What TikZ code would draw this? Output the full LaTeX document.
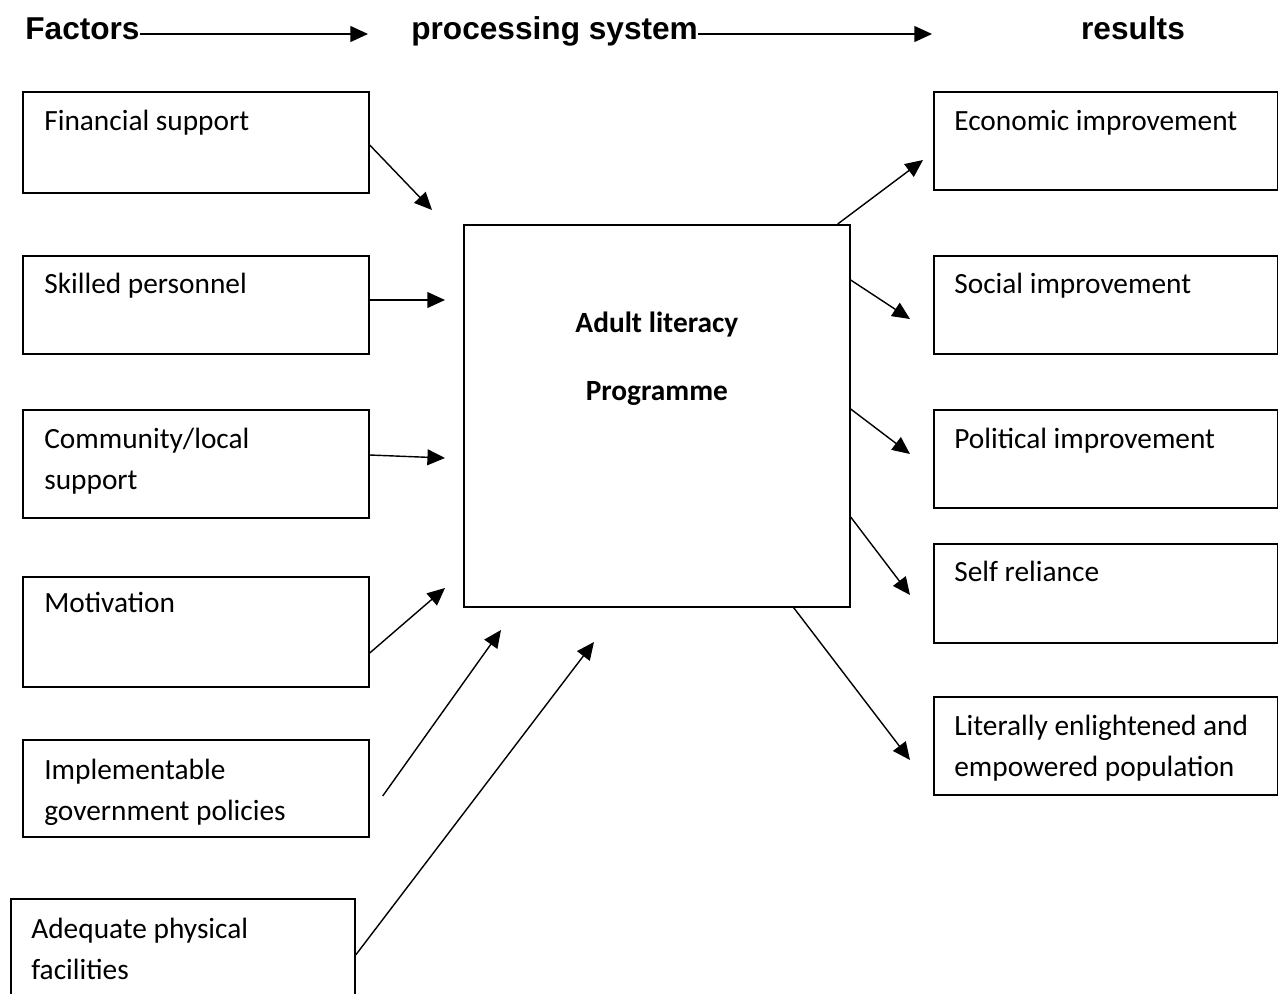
\documentclass[tikz,border=0pt]{standalone}
\usepackage{fontspec}
\setmainfont{Carlito}
\newfontfamily\headfont{Liberation Sans}
\usetikzlibrary{arrows.meta,calc}

\tikzset{
  box/.style={draw, line width=1pt, inner sep=0pt, anchor=north west,
    minimum width=6.92cm},
  boxtext/.style={anchor=base west, inner sep=0pt, align=flush left,
    text width=6.4cm, font=\fontsize{16.7}{23.5}\selectfont},
  head/.style={anchor=base west, inner sep=0pt,
    font=\headfont\fontsize{18}{22}\bfseries\selectfont},
  arr/.style={-{Triangle[length=10pt,width=9pt]}, line width=0.8pt}
}

\begin{document}
\begin{tikzpicture}[x=0.02cm, y=-0.02cm]
  \useasboundingbox (0,0) rectangle (1278,994);

  % headings
  \node[head] (factors) at (25,39) {Factors};
  \node[head] (process) at (411,39) {processing system};
  \node[head, anchor=base] (results) at (1133,39) {results};
  \coordinate (hd1) at (368,34);
  \coordinate (hd2) at (932,34);
  \draw[arr] ($(factors.base east)+(0,-5)$) -- (hd1);
  \draw[arr] ($(process.base east)+(0,-5)$) -- (hd2);

  % factors
  \node[box, minimum height=2.02cm] (fin) at (22,91) {};
  \node[boxtext] (fin-t) at ($(fin.north west)+(22,39)$) {Financial support};
  \node[box, minimum height=1.96cm] (skl) at (22,255) {};
  \node[boxtext] (skl-t) at ($(skl.north west)+(22,38)$) {Skilled personnel};
  \node[box, minimum height=2.16cm] (com) at (22,409) {};
  \node[boxtext] (com-t) at ($(com.north west)+(22,39)$) {Community/local\\support};
  \node[box, minimum height=2.2cm] (mot) at (22,576) {};
  \node[boxtext] (mot-t) at ($(mot.north west)+(22,36)$) {Motivation};
  \node[box, minimum height=1.94cm] (imp) at (22,739) {};
  \node[boxtext] (imp-t) at ($(imp.north west)+(22,40)$) {Implementable\\government policies};
  \node[box, minimum width=6.88cm, minimum height=2.3cm] (ade) at (10,898) {};
  \node[boxtext] (ade-t) at ($(ade.north west)+(21,40)$) {Adequate physical\\facilities};

  % processing system
  \node[box, minimum width=7.72cm, minimum height=7.64cm] (prog) at (463,224) {};
  \node[inner sep=0pt, anchor=base, font=\fontsize{16.7}{20}\bfseries\selectfont]
    (prog-t1) at ($(prog.north)+(0,108)$) {Adult literacy};
  \node[inner sep=0pt, anchor=base, font=\fontsize{16.7}{20}\bfseries\selectfont]
    (prog-t2) at ($(prog.north)+(0,176)$) {Programme};

  % results
  \node[box, minimum width=6.88cm, minimum height=1.96cm] (eco) at (933,91) {};
  \node[boxtext] (eco-t) at ($(eco.north west)+(21,39)$) {Economic improvement};
  \node[box, minimum width=6.88cm, minimum height=1.96cm] (soc) at (933,255) {};
  \node[boxtext] (soc-t) at ($(soc.north west)+(21,38)$) {Social improvement};
  \node[box, minimum width=6.88cm, minimum height=1.96cm] (pol) at (933,409) {};
  \node[boxtext] (pol-t) at ($(pol.north west)+(21,39)$) {Political improvement};
  \node[box, minimum width=6.88cm, minimum height=1.98cm] (slf) at (933,543) {};
  \node[boxtext] (slf-t) at ($(slf.north west)+(21,38)$) {Self reliance};
  \node[box, minimum width=6.88cm, minimum height=1.96cm] (lit) at (933,696) {};
  \node[boxtext] (lit-t) at ($(lit.north west)+(21,39)$) {Literally enlightened and\\empowered population};

  % arrow tips
  \coordinate (t-fin) at (432,210);
  \coordinate (t-skl) at (445,300);
  \coordinate (t-com) at (445,458);
  \coordinate (t-mot) at (445,588);
  \coordinate (t-imp) at (501,630);
  \coordinate (t-ade) at (594,642);
  \coordinate (t-eco) at (923,160);
  \coordinate (t-soc) at (910,319);
  \coordinate (t-pol) at (910,454);
  \coordinate (t-slf) at (910,595);
  \coordinate (t-lit) at (910,760);

  \draw[arr] ($(fin.north east)+(0,54)$) -- (t-fin);
  \draw[arr] ($(skl.north east)+(0,45)$) -- (t-skl);
  \draw[arr] ($(com.north east)+(0,46)$) -- (t-com);
  \draw[arr] ($(mot.north east)+(0,77)$) -- (t-mot);
  \draw[arr] ($(imp.north east)+(13,57)$) -- (t-imp);
  \draw[arr] ($(ade.north east)+(0,57)$) -- (t-ade);

  \draw[arr] ($(prog.north east)+(-13,0)$) -- (t-eco);
  \draw[arr] ($(prog.north east)+(0,56)$) -- (t-soc);
  \draw[arr] ($(prog.north east)+(0,185)$) -- (t-pol);
  \draw[arr] ($(prog.north east)+(0,293)$) -- (t-slf);
  \draw[arr] ($(prog.south east)+(-57,0)$) -- (t-lit);
\end{tikzpicture}
\end{document}
